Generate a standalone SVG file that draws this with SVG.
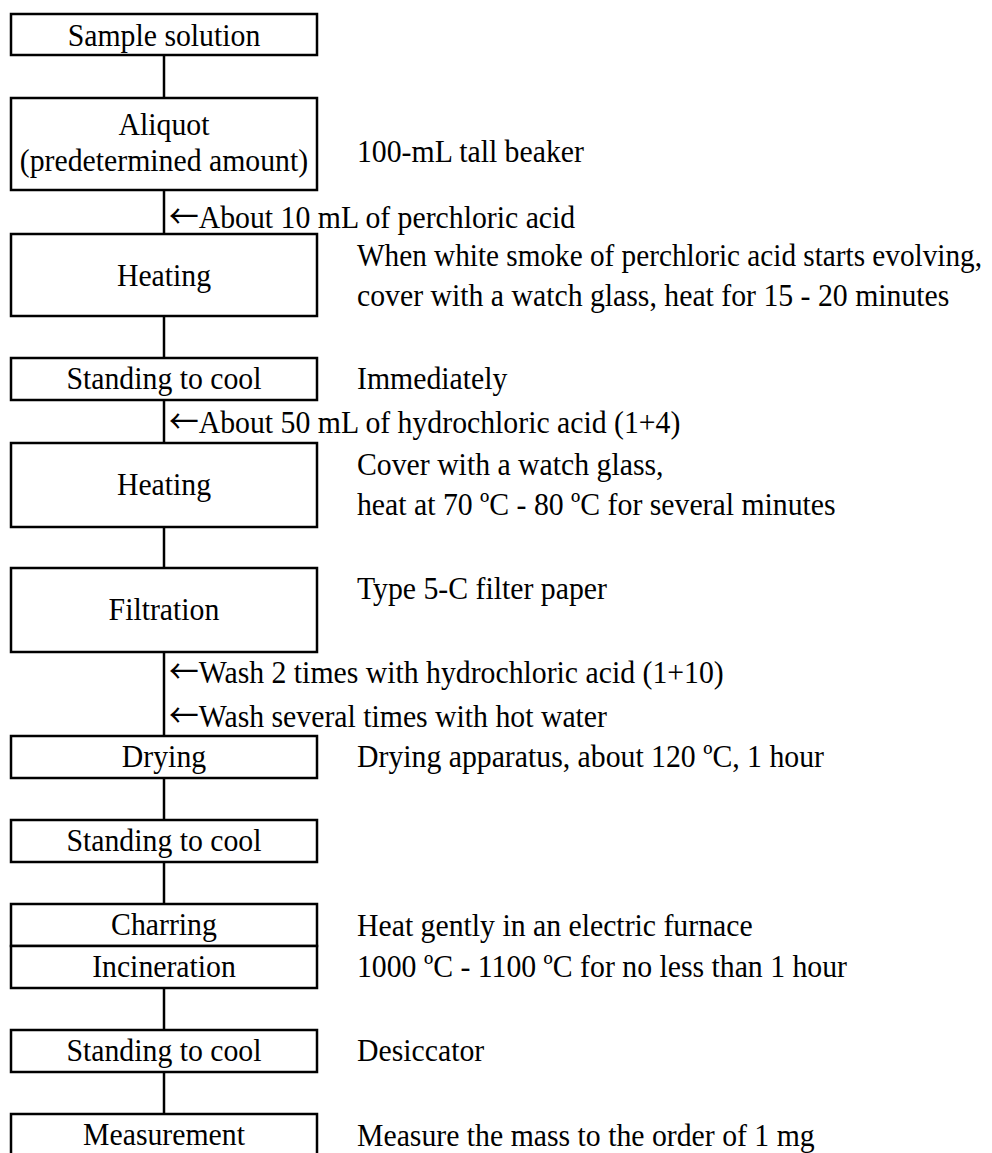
<svg xmlns="http://www.w3.org/2000/svg" width="992" height="1153" viewBox="0 0 992 1153">
<style>
.box{fill:#fff;stroke:#000;stroke-width:2.5}
.con{stroke:#000;stroke-width:2.5;fill:none}
text{font-family:"Liberation Serif","Times New Roman",serif;font-size:32px;fill:#000}
.c{text-anchor:middle}
.arr{font-family:"Noto Sans CJK JP","DejaVu Sans",sans-serif;font-size:32px}
</style>
<rect width="992" height="1153" fill="#fff"/>
<g id="connectors">
<line class="con" x1="164" y1="55" x2="164" y2="98"/>
<line class="con" x1="164" y1="190" x2="164" y2="234"/>
<line class="con" x1="164" y1="316" x2="164" y2="358"/>
<line class="con" x1="164" y1="400" x2="164" y2="443"/>
<line class="con" x1="164" y1="527" x2="164" y2="568"/>
<line class="con" x1="164" y1="652" x2="164" y2="736"/>
<line class="con" x1="164" y1="778" x2="164" y2="820"/>
<line class="con" x1="164" y1="862" x2="164" y2="904"/>
<line class="con" x1="164" y1="988" x2="164" y2="1030"/>
<line class="con" x1="164" y1="1072" x2="164" y2="1114"/>
</g>
<g id="n1"><rect class="box" x="11" y="14" width="306" height="41"/><g transform="scale(0.93 1)"><text class="c" x="176.34" y="46">Sample solution</text></g></g>
<g id="n2"><rect class="box" x="11" y="98" width="306" height="92"/><g transform="scale(0.93 1)"><text class="c" x="176.34" y="135">Aliquot</text><text class="c" x="176.34" y="171">(predetermined amount)</text></g></g>
<g id="n3"><rect class="box" x="11" y="234" width="306" height="82"/><g transform="scale(0.93 1)"><text class="c" x="176.34" y="286">Heating</text></g></g>
<g id="n4"><rect class="box" x="11" y="358" width="306" height="42"/><g transform="scale(0.93 1)"><text class="c" x="176.34" y="389">Standing to cool</text></g></g>
<g id="n5"><rect class="box" x="11" y="443" width="306" height="84"/><g transform="scale(0.93 1)"><text class="c" x="176.34" y="495">Heating</text></g></g>
<g id="n6"><rect class="box" x="11" y="568" width="306" height="84"/><g transform="scale(0.93 1)"><text class="c" x="176.34" y="620">Filtration</text></g></g>
<g id="n7"><rect class="box" x="11" y="736" width="306" height="42"/><g transform="scale(0.93 1)"><text class="c" x="176.34" y="767">Drying</text></g></g>
<g id="n8"><rect class="box" x="11" y="820" width="306" height="42"/><g transform="scale(0.93 1)"><text class="c" x="176.34" y="851">Standing to cool</text></g></g>
<g id="n9"><rect class="box" x="11" y="904" width="306" height="42"/><g transform="scale(0.93 1)"><text class="c" x="176.34" y="935">Charring</text></g></g>
<g id="n10"><rect class="box" x="11" y="946" width="306" height="42"/><g transform="scale(0.93 1)"><text class="c" x="176.34" y="977">Incineration</text></g></g>
<g id="n11"><rect class="box" x="11" y="1030" width="306" height="42"/><g transform="scale(0.93 1)"><text class="c" x="176.34" y="1061">Standing to cool</text></g></g>
<g id="n12"><rect class="box" x="11" y="1114" width="306" height="42"/><g transform="scale(0.93 1)"><text class="c" x="176.34" y="1145">Measurement</text></g></g>
<g id="notes" transform="scale(0.93 1)">
<text x="383.87" y="162">100-mL tall beaker</text>
<text x="383.87" y="266" textLength="672" lengthAdjust="spacingAndGlyphs">When white smoke of perchloric acid starts evolving,</text>
<text x="383.87" y="306">cover with a watch glass, heat for 15 - 20 minutes</text>
<text x="383.87" y="389">Immediately</text>
<text x="383.87" y="475">Cover with a watch glass,</text>
<text x="383.87" y="515">heat at 70 ºC - 80 ºC for several minutes</text>
<text x="383.87" y="599">Type 5-C filter paper</text>
<text x="383.87" y="767">Drying apparatus, about 120 ºC, 1 hour</text>
<text x="383.87" y="936">Heat gently in an electric furnace</text>
<text x="383.87" y="977">1000 ºC - 1100 ºC for no less than 1 hour</text>
<text x="383.87" y="1061">Desiccator</text>
<text x="383.87" y="1146">Measure the mass to the order of 1 mg</text>
</g>
<g id="additions" transform="scale(0.93 1)">
<text x="181.7" y="228"><tspan class="arr">←</tspan>About 10 mL of perchloric acid</text>
<text x="181.7" y="433"><tspan class="arr">←</tspan>About 50 mL of hydrochloric acid (1+4)</text>
<text x="181.7" y="683"><tspan class="arr">←</tspan>Wash 2 times with hydrochloric acid (1+10)</text>
<text x="181.7" y="727"><tspan class="arr">←</tspan>Wash several times with hot water</text>
</g>
</svg>
